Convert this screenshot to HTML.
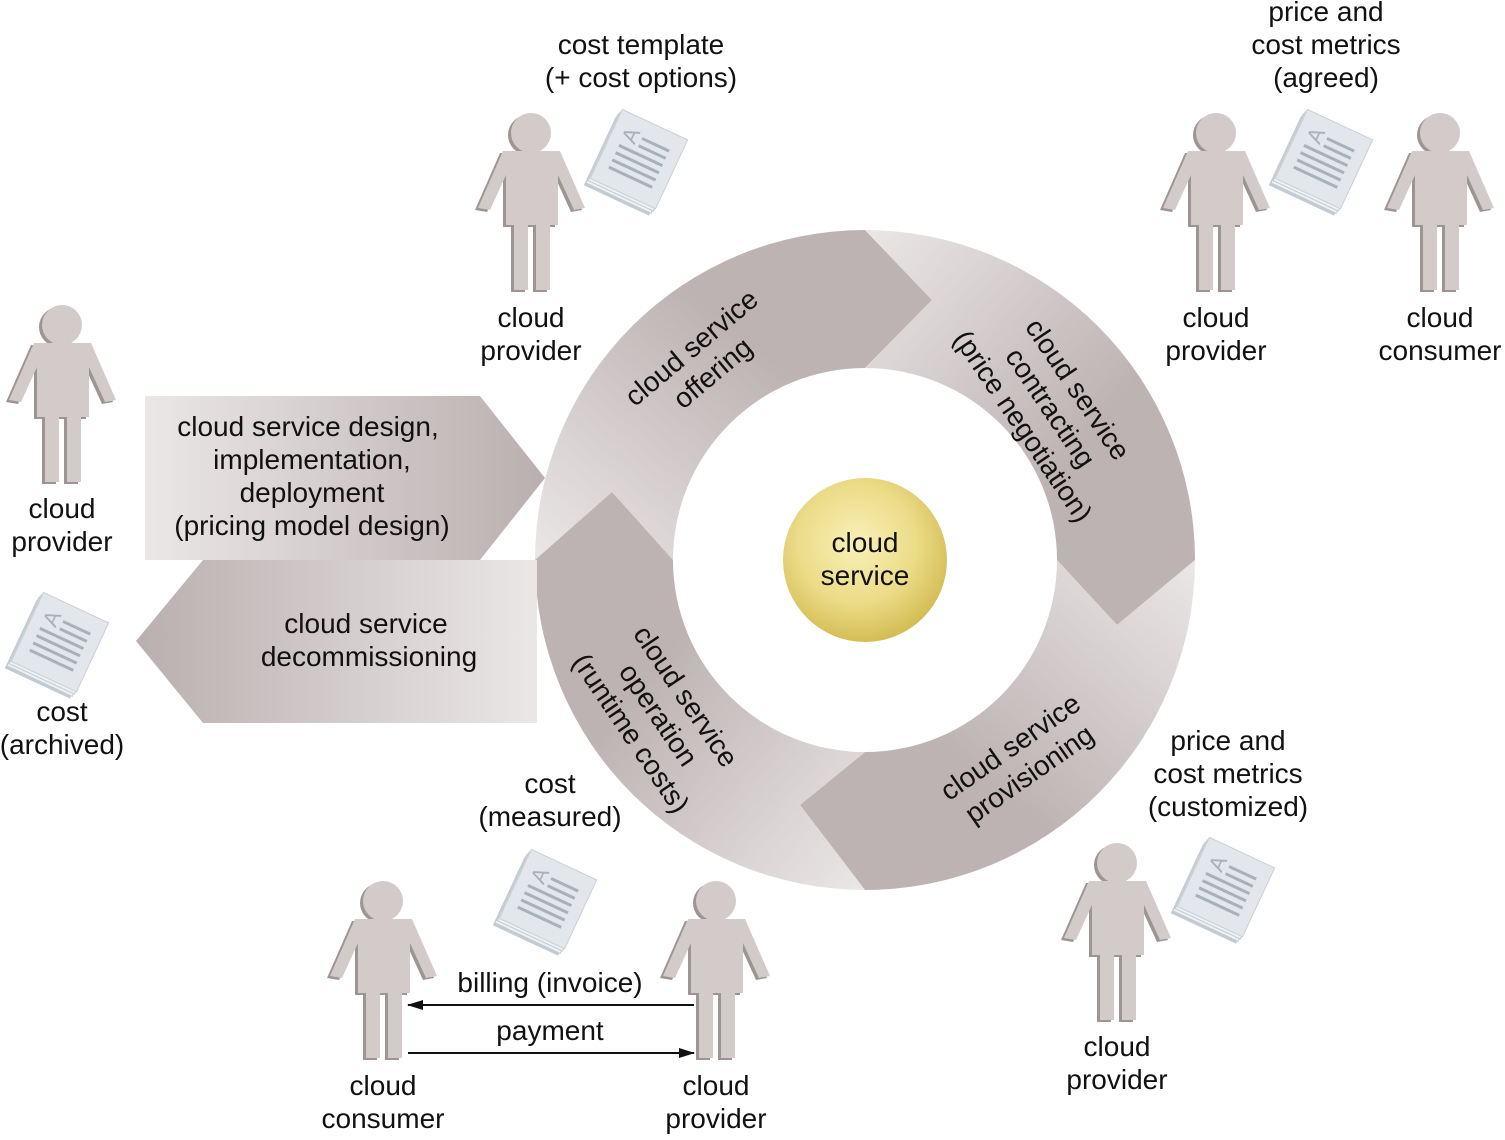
<!DOCTYPE html>
<html><head><meta charset="utf-8"><style>
html,body{margin:0;padding:0;background:#fff;}
svg text{font-family:"Liberation Sans",Arial,sans-serif;font-size:28px;fill:#111;text-anchor:middle;}
</style></head><body>
<svg width="1505" height="1135" viewBox="0 0 1505 1135" xmlns="http://www.w3.org/2000/svg">
<defs>
<symbol id="p" viewBox="0 0 110 180" width="110" height="180" overflow="visible">
 <g transform="translate(-3,2)" fill="#9c9594">
  <circle cx="53" cy="20" r="20"/>
  <polygon points="25,38 82,38 107,95 96,97 80,62 80,112 72,112 72,177 58,177 58,112 50,112 50,177 36,177 36,112 28,112 28,62 12,97 0,95"/>
 </g>
 <g fill="#d3cbc9">
  <circle cx="53" cy="20" r="20"/>
  <polygon points="25,38 82,38 107,95 96,97 80,62 80,112 72,112 72,177 58,177 58,112 50,112 50,177 36,177 36,112 28,112 28,62 12,97 0,95"/>
 </g>
</symbol>
<symbol id="d" viewBox="0 0 110 110" width="110" height="110" overflow="visible">
 <g transform="rotate(25 55 55)">
  <rect x="18" y="22" width="72" height="76" fill="#c3cbd2" transform="translate(-3,9)"/>
  <rect x="18" y="22" width="72" height="76" fill="#eef1f3" stroke="#c3cbd2" transform="translate(-2,6)"/>
  <rect x="18" y="22" width="72" height="76" fill="#eef1f3" stroke="#c3cbd2" transform="translate(-1,3)"/>
  <rect x="18" y="22" width="72" height="76" fill="#e3e7eb" stroke="#c8d0d6"/>
  <g stroke="#a9b1b8" stroke-width="3">
   <line x1="30" y1="56" x2="78" y2="56"/><line x1="30" y1="64" x2="78" y2="64"/><line x1="30" y1="72" x2="78" y2="72"/><line x1="30" y1="80" x2="78" y2="80"/><line x1="48" y1="48" x2="78" y2="48"/><line x1="48" y1="40" x2="78" y2="40"/>
  </g>
  <text x="36" y="50" style="font-size:22px;fill:#a9b1b8" transform="rotate(-90 36 42)">A</text>
 </g>
</symbol>
<linearGradient id="g1" x1="0" y1="1" x2="1" y2="0"><stop offset="0" stop-color="#ebe7e7"/><stop offset="0.6" stop-color="#bdb3b3"/></linearGradient>
<linearGradient id="g2" x1="0" y1="0" x2="1" y2="1"><stop offset="0" stop-color="#ebe7e7"/><stop offset="0.6" stop-color="#bdb3b3"/></linearGradient>
<linearGradient id="g3" x1="1" y1="0" x2="0" y2="1"><stop offset="0" stop-color="#ebe7e7"/><stop offset="0.6" stop-color="#bdb3b3"/></linearGradient>
<linearGradient id="g4" x1="1" y1="1" x2="0" y2="0"><stop offset="0" stop-color="#ebe7e7"/><stop offset="0.6" stop-color="#bdb3b3"/></linearGradient>
<linearGradient id="ga" x1="0" y1="0" x2="1" y2="0"><stop offset="0" stop-color="#ebe7e7"/><stop offset="1" stop-color="#b9afaf"/></linearGradient>
<linearGradient id="gb" x1="0" y1="0" x2="1" y2="0"><stop offset="0" stop-color="#b9afaf"/><stop offset="1" stop-color="#ebe7e7"/></linearGradient>
<radialGradient id="ball" cx="0.45" cy="0.4" r="0.6"><stop offset="0" stop-color="#f8f0b8"/><stop offset="0.6" stop-color="#ecdc88"/><stop offset="1" stop-color="#d3bd55"/></radialGradient>
<marker id="ah" markerWidth="16" markerHeight="10" refX="15" refY="5" orient="auto" markerUnits="userSpaceOnUse"><path d="M0,0 L16,5 L0,10 z" fill="#111"/></marker>
</defs>

<path d="M535,560 A330,330 0 0 1 865,230 L932,300 L865,368 A192,192 0 0 0 673,560 L612,492 Z" fill="url(#g1)"/>
<path d="M865,230 A330,330 0 0 1 1195,560 L1117,625 L1057,560 A192,192 0 0 0 865,368 L932,300 Z" fill="url(#g2)"/>
<path d="M1195,560 A330,330 0 0 1 865,890 L800,805 L865,752 A192,192 0 0 0 1057,560 L1117,625 Z" fill="url(#g3)"/>
<path d="M865,890 A330,330 0 0 1 535,560 L612,492 L673,560 A192,192 0 0 0 865,752 L800,805 Z" fill="url(#g4)"/>

<circle cx="865" cy="560" r="82" fill="url(#ball)"/>
<text x="865" y="552">cloud</text><text x="865" y="585">service</text>

<text transform="translate(700,358) rotate(-40)"><tspan x="0" y="-4">cloud service</tspan><tspan x="0" y="29">offering</tspan></text>
<text transform="translate(1050,408) rotate(56)"><tspan x="0" y="-24">cloud service</tspan><tspan x="0" y="9">contracting</tspan><tspan x="0" y="42">(price negotiation)</tspan></text>
<text transform="translate(1018,758) rotate(-35)"><tspan x="0" y="-4">cloud service</tspan><tspan x="0" y="29">provisioning</tspan></text>
<text transform="translate(658,715) rotate(56)"><tspan x="0" y="-24">cloud service</tspan><tspan x="0" y="9">operation</tspan><tspan x="0" y="42">(runtime costs)</tspan></text>

<polygon points="145,396 480,396 545,478 480,560 145,560" fill="url(#ga)"/>
<polygon points="537,560 537,723 203,723 136,641 203,560" fill="url(#gb)"/>
<text x="308" y="436">cloud service design,</text>
<text x="312" y="469">implementation,</text>
<text x="312" y="502">deployment</text>
<text x="312" y="535">(pricing model design)</text>
<text x="366" y="633">cloud service</text>
<text x="369" y="666">decommissioning</text>

<use href="#p" x="478" y="113"/>
<use href="#p" x="1163" y="113"/>
<use href="#p" x="1387" y="113"/>
<use href="#p" x="9" y="305"/>
<use href="#p" x="330" y="881"/>
<use href="#p" x="663" y="881"/>
<use href="#p" x="1064" y="843"/>

<use href="#d" x="587" y="100"/>
<use href="#d" x="1272" y="100"/>
<use href="#d" x="8" y="583"/>
<use href="#d" x="496" y="840"/>
<use href="#d" x="1174" y="828"/>

<text x="641" y="54">cost template</text><text x="641" y="87">(+ cost options)</text>
<text x="531" y="327">cloud</text><text x="531" y="360">provider</text>
<text x="1326" y="21">price and</text><text x="1326" y="54">cost metrics</text><text x="1326" y="87">(agreed)</text>
<text x="1216" y="327">cloud</text><text x="1216" y="360">provider</text>
<text x="1440" y="327">cloud</text><text x="1440" y="360">consumer</text>
<text x="62" y="518">cloud</text><text x="62" y="551">provider</text>
<text x="62" y="721">cost</text><text x="62" y="754">(archived)</text>
<text x="550" y="793">cost</text><text x="550" y="826">(measured)</text>
<text x="1228" y="750">price and</text><text x="1228" y="783">cost metrics</text><text x="1228" y="816">(customized)</text>
<text x="1117" y="1056">cloud</text><text x="1117" y="1089">provider</text>
<text x="383" y="1095">cloud</text><text x="383" y="1128">consumer</text>
<text x="716" y="1095">cloud</text><text x="716" y="1128">provider</text>

<line x1="694" y1="1005" x2="408" y2="1005" stroke="#111" stroke-width="2" marker-end="url(#ah)"/>
<line x1="408" y1="1053" x2="694" y2="1053" stroke="#111" stroke-width="2" marker-end="url(#ah)"/>
<text x="550" y="992">billing (invoice)</text>
<text x="550" y="1040">payment</text>
</svg>
</body></html>
